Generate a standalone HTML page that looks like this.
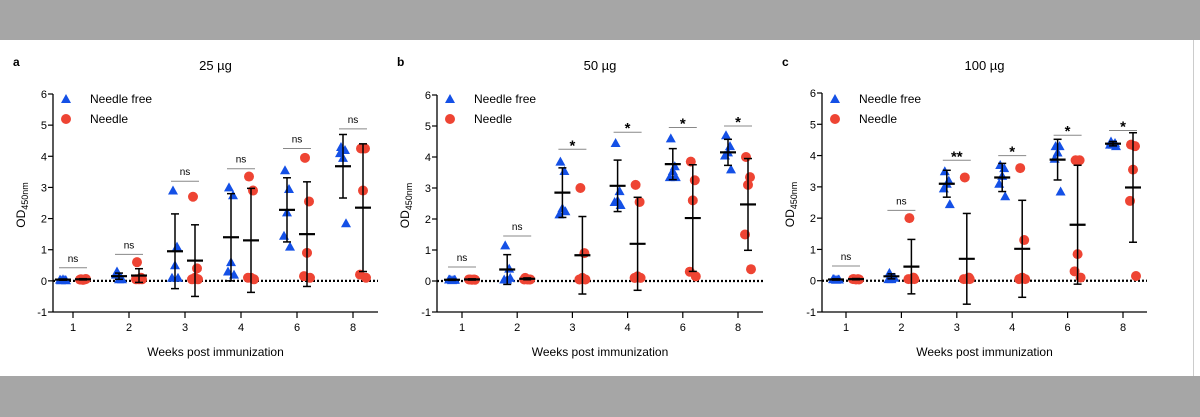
<!DOCTYPE html>
<html><head><meta charset="utf-8"><style>
html,body{margin:0;padding:0;background:#fff;}
body{width:1200px;height:417px;overflow:hidden;position:relative;font-family:"Liberation Sans",Arial,sans-serif;}
</style></head><body>
<div style="position:absolute;left:0;top:0;width:1200px;height:40px;background:#a6a6a6"></div>
<div style="position:absolute;left:0;top:376px;width:1200px;height:41px;background:#a6a6a6"></div>
<div style="position:absolute;left:1193px;top:40px;width:1px;height:336px;background:#ccc"></div>
<svg id="fig" width="1200" height="417" style="position:absolute;left:0;top:0" font-family="Liberation Sans, Arial, sans-serif"></svg>
<script>
const weeks = ["1","2","3","4","6","8"];
const yTicks = [-1,0,1,2,3,4,5,6];
const panelLetters = ["a","b","c"];
const panelTitles = ["25 µg","50 µg","100 µg"];
// Needle free points per panel/week
const nfA = [[0.02,0.03,0.05,0.04,0.02],[0.3,0.1,0.05,0.2,0.05],[2.9,1.1,0.5,0.1,0.1],[3.0,2.75,0.6,0.3,0.2],[3.55,2.95,2.2,1.45,1.1],[4.3,4.2,3.95,4.1,1.85]];
const nfB = [[0.05,0.04,0.03,0.05,0.04],[1.15,0.4,0.05,0.05,0.1],[3.85,3.55,2.35,2.15,2.25],[4.45,2.9,2.6,2.55,2.45],[4.6,3.7,3.55,3.35,3.35],[4.7,4.35,4.15,4.05,3.6]];
const nfC = [[0.05,0.04,0.03,0.05,0.04],[0.25,0.1,0.05,0.05,0.1],[3.5,3.2,3.1,2.95,2.45],[3.7,3.6,3.35,3.1,2.7],[4.3,4.3,4.1,3.9,2.85],[4.45,4.4,4.35,4.35,4.3]];
// Needle points
const ndA = [[0.05,0.05,0.03,0.04,0.06],[0.6,0.1,0.05,0.05,0.05],[2.7,0.4,0.1,0.05,0.05],[3.35,2.9,0.1,0.1,0.05],[3.95,2.55,0.9,0.15,0.1],[4.25,4.25,2.9,0.2,0.1]];
const ndB = [[0.05,0.05,0.04,0.05,0.04],[0.1,0.05,0.05,0.05,0.05],[3.0,0.9,0.1,0.05,0.05],[3.1,2.55,0.15,0.1,0.1],[3.85,3.25,2.6,0.3,0.15],[4.0,3.35,3.1,1.5,0.38]];
const ndC = [[0.05,0.05,0.04,0.05,0.04],[2.0,0.1,0.05,0.05,0.05],[3.3,0.1,0.05,0.05,0.05],[3.6,1.3,0.1,0.05,0.05],[3.85,3.85,0.85,0.3,0.1],[4.35,4.3,3.55,2.55,0.15]];
// means and SD
const nfMeanA=[0.04,0.15,0.95,1.4,2.28,3.68], nfSdA=[0.02,0.1,1.2,1.4,1.03,1.02];
const ndMeanA=[0.05,0.17,0.65,1.3,1.5,2.35], ndSdA=[0.02,0.22,1.15,1.67,1.68,2.05];
const nfMeanB=[0.04,0.37,2.85,3.07,3.77,4.15], nfSdB=[0.02,0.48,0.8,0.83,0.5,0.42];
const ndMeanB=[0.05,0.07,0.83,1.2,2.03,2.47], ndSdB=[0.02,0.03,1.25,1.5,1.72,1.48];
const nfMeanC=[0.04,0.14,3.1,3.3,3.87,4.38], nfSdC=[0.02,0.08,0.43,0.45,0.65,0.07];
const ndMeanC=[0.05,0.45,0.7,1.02,1.79,2.98], ndSdC=[0.02,0.87,1.45,1.55,1.9,1.75];
// significance
const sigA=["ns","ns","ns","ns","ns","ns"], sigHA=[0.42,0.85,3.2,3.6,4.25,4.88];
const sigB=["ns","ns","*","*","*","*"], sigHB=[0.45,1.45,4.25,4.8,4.95,5.0];
const sigC=["ns","ns","**","*","*","*"], sigHC=[0.47,2.25,3.85,4.0,4.65,4.8];

const panels=[
 {ax:53,top:94,bot:312,end:378,t0:73,step:56,nf:nfA,nd:ndA,nfM:nfMeanA,nfS:nfSdA,ndM:ndMeanA,ndS:ndSdA,sig:sigA,sigH:sigHA},
 {ax:437,top:95,bot:312,end:763,t0:462,step:55.2,nf:nfB,nd:ndB,nfM:nfMeanB,nfS:nfSdB,ndM:ndMeanB,ndS:ndSdB,sig:sigB,sigH:sigHB},
 {ax:822,top:93,bot:312,end:1147,t0:846,step:55.4,nf:nfC,nd:ndC,nfM:nfMeanC,nfS:nfSdC,ndM:ndMeanC,ndS:ndSdC,sig:sigC,sigH:sigHC}
];
const jit=[-2,2,0,-3,3];
const svg=document.getElementById('fig');
const NS='http://www.w3.org/2000/svg';
function mk(tag,attrs,parent){const e=document.createElementNS(NS,tag);for(const k in attrs)e.setAttribute(k,attrs[k]);(parent||svg).appendChild(e);return e;}
function txt(s,attrs,parent){const e=mk('text',attrs,parent);e.textContent=s;return e;}

panels.forEach((p,pi)=>{
 const g=mk('g',{});
 
 
 const y=v=>p.bot-(v+1)*(p.bot-p.top)/7;
 const x=i=>p.t0+i*p.step;
 const lt=txt(panelLetters[pi],{x:p.ax-40,y:66,'font-size':12,'font-weight':'bold'},g);
 
 
 const tt=txt(panelTitles[pi],{x:(p.ax+p.end)/2,y:70,'font-size':13,'text-anchor':'middle'},g);
 
 
 // axes
 const ya=mk('line',{x1:p.ax,y1:p.top,x2:p.ax,y2:p.bot,stroke:'#000','stroke-width':1.3},g);
 
 
 const xa=mk('line',{x1:p.ax,y1:p.bot,x2:p.end,y2:p.bot,stroke:'#000','stroke-width':1.3},g);
 
 
 yTicks.forEach(v=>{
  mk('line',{x1:p.ax-5,y1:y(v),x2:p.ax,y2:y(v),stroke:'#000','stroke-width':1.2},g);
  const t=txt(String(v),{x:p.ax-6,y:y(v)+4,'font-size':11,'text-anchor':'end'},g);
  
  
 });
 weeks.forEach((w,i)=>{
  mk('line',{x1:x(i),y1:p.bot,x2:x(i),y2:p.bot+6,stroke:'#000','stroke-width':1.2},g);
  const t=txt(w,{x:x(i),y:p.bot+19,'font-size':11,'text-anchor':'middle'},g);
  
  
 });
 const xt=txt('Weeks post immunization',{x:(p.ax+p.end)/2,y:356,'font-size':12,'text-anchor':'middle'},g);
 
 
 const yl=mk('text',{x:0,y:0,'font-size':12,transform:`translate(${p.ax-28},${(p.top+p.bot)/2+2}) rotate(-90)`,'text-anchor':'middle'},g);
 
 
 yl.innerHTML='OD<tspan font-size="9" dy="3">450nm</tspan>';
 // zero line
 const zl=mk('line',{x1:p.ax,y1:y(0),x2:p.end,y2:y(0),stroke:'#000','stroke-width':2.2,'stroke-dasharray':'2 2'},g);
 
 
 // legend
 const lg=mk('g',{},g);
 
 
 const lx=p.ax+13;
 mk('polygon',{points:`${lx-5},${103} ${lx+5},${103} ${lx},${94}`,fill:'#1450e6'},lg);
 txt('Needle free',{x:lx+24,y:103,'font-size':12},lg);
 mk('circle',{cx:lx,cy:119,r:5,fill:'#ee4433'},lg);
 txt('Needle',{x:lx+24,y:123,'font-size':12},lg);
 weeks.forEach((w,i)=>{
  const cx1=x(i)-10, cx2=x(i)+10;
  p.nf[i].forEach((v,k)=>{
   const px=cx1+jit[k], py=y(v);
   const m=mk('polygon',{points:`${px-5},${py+4} ${px+5},${py+4} ${px},${py-5}`,fill:'#1450e6'},g);
   
   
  });
  p.nd[i].forEach((v,k)=>{
   const m=mk('circle',{cx:cx2+jit[k],cy:y(v),r:5,fill:'#ee4433'},g);
   
   
  });
  [[cx1,p.nfM[i],p.nfS[i]],[cx2,p.ndM[i],p.ndS[i]]].forEach(([cx,m,s])=>{
   const eb=mk('g',{stroke:'#000','stroke-width':1.5},g);
   
   
   mk('line',{x1:cx,y1:y(m+s),x2:cx,y2:y(m-s)},eb);
   mk('line',{x1:cx-4,y1:y(m+s),x2:cx+4,y2:y(m+s)},eb);
   mk('line',{x1:cx-4,y1:y(m-s),x2:cx+4,y2:y(m-s)},eb);
   mk('line',{x1:cx-8,y1:y(m),x2:cx+8,y2:y(m),'stroke-width':2.2},eb);
  });
  const sg=mk('g',{},g);
  
  
  mk('line',{x1:x(i)-14,y1:y(p.sigH[i]),x2:x(i)+14,y2:y(p.sigH[i]),stroke:'#888','stroke-width':1},sg);
  const star=p.sig[i]!=='ns';
  txt(p.sig[i],{x:x(i),y:y(p.sigH[i])-(star?3:6)+(star?4:0),'font-size':star?15:10,'font-weight':star?'bold':'normal','text-anchor':'middle'},sg);
 });
});
</script>
</body></html>
